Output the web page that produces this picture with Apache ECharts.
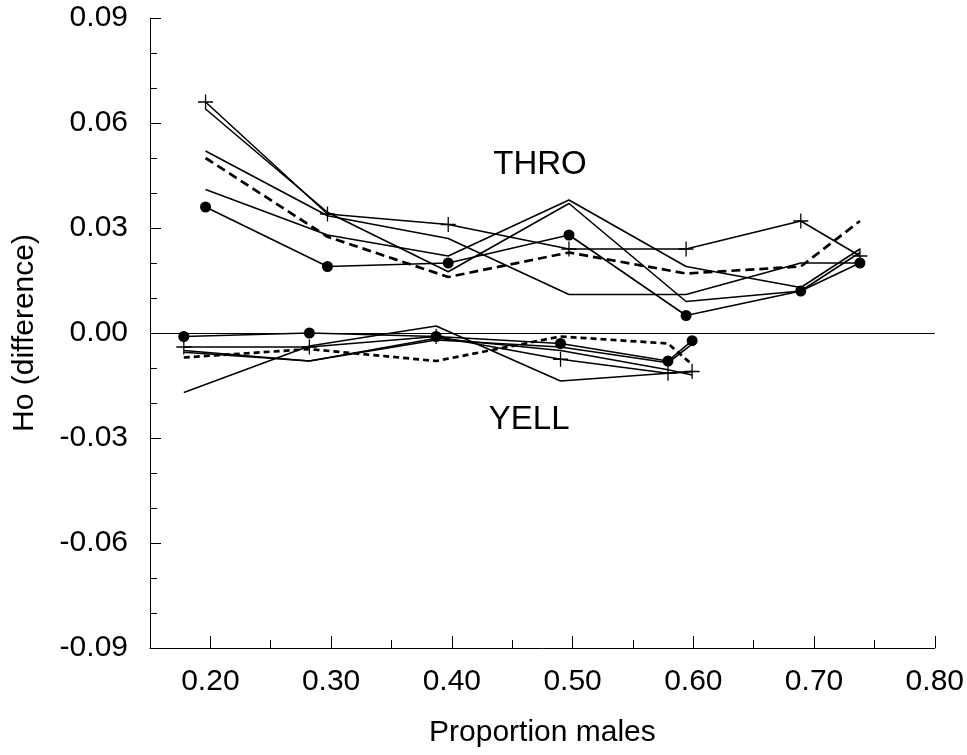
<!DOCTYPE html>
<html>
<head>
<meta charset="utf-8">
<script src="https://cdn.jsdelivr.net/npm/echarts@6/dist/echarts.min.js"></script>
<style>html,body{margin:0;padding:0;background:#fff}#c{width:967px;height:755px}</style>
</head>
<body>
<div id="c"></div>
<script>
// ---- data ----
const throX = [0.196, 0.297, 0.397, 0.497, 0.594, 0.689, 0.738];
const throPlus = [0.066, 0.034, 0.031, 0.024, 0.024, 0.032, 0.022];
const throDot = [0.036, 0.019, 0.020, 0.028, 0.005, 0.012, 0.020];
const throDash = [0.050, 0.0275, 0.016, 0.023, 0.017, 0.019, 0.032];
const throL1 = [0.064, 0.0345, 0.0175, 0.037, 0.009, 0.012, 0.023];
const throL2 = [0.052, 0.0335, 0.027, 0.011, 0.011, 0.020, 0.020];
const throL3 = [0.041, 0.028, 0.022, 0.038, 0.019, 0.013, 0.024];

const yellX = [0.178, 0.282, 0.387, 0.490, 0.579, 0.599];
const yellPlus = [-0.004, -0.004, -0.001, -0.0075, -0.0115, -0.011];
const yellDot = [-0.001, 0.000, -0.001, -0.003, -0.008, -0.0022];
const yellDash = [-0.007, -0.0046, -0.008, -0.001, -0.003, -0.009];
const yellL1 = [-0.005, -0.008, -0.0015, -0.005, -0.0105, -0.012];
const yellL2 = [-0.017, -0.0037, 0.002, -0.0137, -0.0115, -0.011];
const yellL3 = [-0.0055, -0.008, -0.002, -0.004, -0.0085, -0.0032];

const xMajorTicks = [0.20, 0.30, 0.40, 0.50, 0.60, 0.70, 0.80];
const xMinorTicks = [0.25, 0.35, 0.45, 0.55, 0.65, 0.75];
const annotations = [
  { text: 'THRO', x: 0.473, y: 0.048 },
  { text: 'YELL', x: 0.464, y: -0.0249 }
];

// ---- chart ----
const FONT = 'Liberation Sans';
const PLUS = 'path://M-0.6,-7H0.6V-0.6H7V0.6H0.6V7H-0.6V0.6H-7V-0.6H-0.6Z';
const zip = (xs, ys) => xs.map((x, i) => [x, ys[i]]);

function solid(name, xs, ys, sym) {
  return {
    name, type: 'line', data: zip(xs, ys),
    symbol: sym || 'none',
    symbolSize: sym === 'circle' ? 11 : 15,
    showSymbol: !!sym,
    itemStyle: { color: '#000' },
    lineStyle: { color: '#000', width: 1.6 },
    z: 3
  };
}
function dashed(name, xs, ys, dash) {
  return {
    name, type: 'line', data: zip(xs, ys), symbol: 'none', showSymbol: false,
    lineStyle: { color: '#000', width: 2.7, type: dash },
    z: 3
  };
}

const series = [
  solid('T plus', throX, throPlus, PLUS),
  solid('T dot', throX, throDot, 'circle'),
  dashed('T dash', throX, throDash, [9, 5]),
  solid('T L1', throX, throL1),
  solid('T L2', throX, throL2),
  solid('T L3', throX, throL3),
  solid('Y plus', yellX, yellPlus, PLUS),
  solid('Y dot', yellX, yellDot, 'circle'),
  dashed('Y dash', yellX, yellDash, [6, 4]),
  solid('Y L1', yellX, yellL1),
  solid('Y L2', yellX, yellL2),
  solid('Y L3', yellX, yellL3),
  {
    type: 'scatter', symbolSize: 0, silent: true,
    itemStyle: { color: '#000', opacity: 0 },
    data: annotations.map(a => ({ value: [a.x, a.y], name: a.text })),
    label: { show: true, position: 'inside', formatter: p => p.name,
      color: '#000', textBorderWidth: 0, opacity: 1, fontFamily: FONT, fontSize: 33 },
    markLine: {
      silent: true, symbol: 'none', label: { show: false },
      lineStyle: { color: '#000', width: 1, type: 'solid' },
      data: [{ yAxis: 0 }]
    },
    z: 2
  }
];

const chart = echarts.init(document.getElementById('c'), null, { renderer: 'canvas' });
chart.setOption({
  animation: false,
  backgroundColor: '#fff',
  grid: { left: 150, right: 31, top: 18, bottom: 107, containLabel: false },
  xAxis: [
    {
      type: 'value', min: 0.15, max: 0.80, position: 'bottom',
      name: 'Proportion males', nameLocation: 'middle', nameGap: 70,
      nameTextStyle: { color: '#000', fontFamily: FONT, fontSize: 30 },
      axisLine: { show: true, onZero: false, lineStyle: { color: '#000', width: 1 } },
      axisTick: { show: true, inside: true, length: 12, customValues: xMajorTicks,
        lineStyle: { color: '#000', width: 1 } },
      axisLabel: { show: true, customValues: xMajorTicks, margin: 19,
        formatter: v => v.toFixed(2), color: '#000', fontFamily: FONT, fontSize: 30 },
      splitLine: { show: false }
    },
    {
      type: 'value', min: 0.15, max: 0.80, position: 'bottom',
      axisLine: { show: false, onZero: false },
      axisTick: { show: true, inside: true, length: 8, customValues: xMinorTicks,
        lineStyle: { color: '#000', width: 1 } },
      axisLabel: { show: false },
      splitLine: { show: false }
    }
  ],
  yAxis: {
    type: 'value', min: -0.09, max: 0.09, interval: 0.03,
    name: 'Ho (difference)', nameLocation: 'middle', nameGap: 110,
    nameTextStyle: { color: '#000', fontFamily: FONT, fontSize: 30 },
    axisLine: { show: true, onZero: false, lineStyle: { color: '#000', width: 1 } },
    axisTick: { show: true, inside: true, length: 11, lineStyle: { color: '#000', width: 1 } },
    minorTick: { show: true, splitNumber: 3, length: 7, lineStyle: { color: '#000', width: 1 } },
    axisLabel: { margin: 22, color: '#000', fontFamily: FONT, fontSize: 30,
      formatter: v => (Math.abs(v) < 1e-9 ? 0 : v).toFixed(2) },
    splitLine: { show: false },
    minorSplitLine: { show: false }
  },
  series
});
</script>
</body>
</html>
